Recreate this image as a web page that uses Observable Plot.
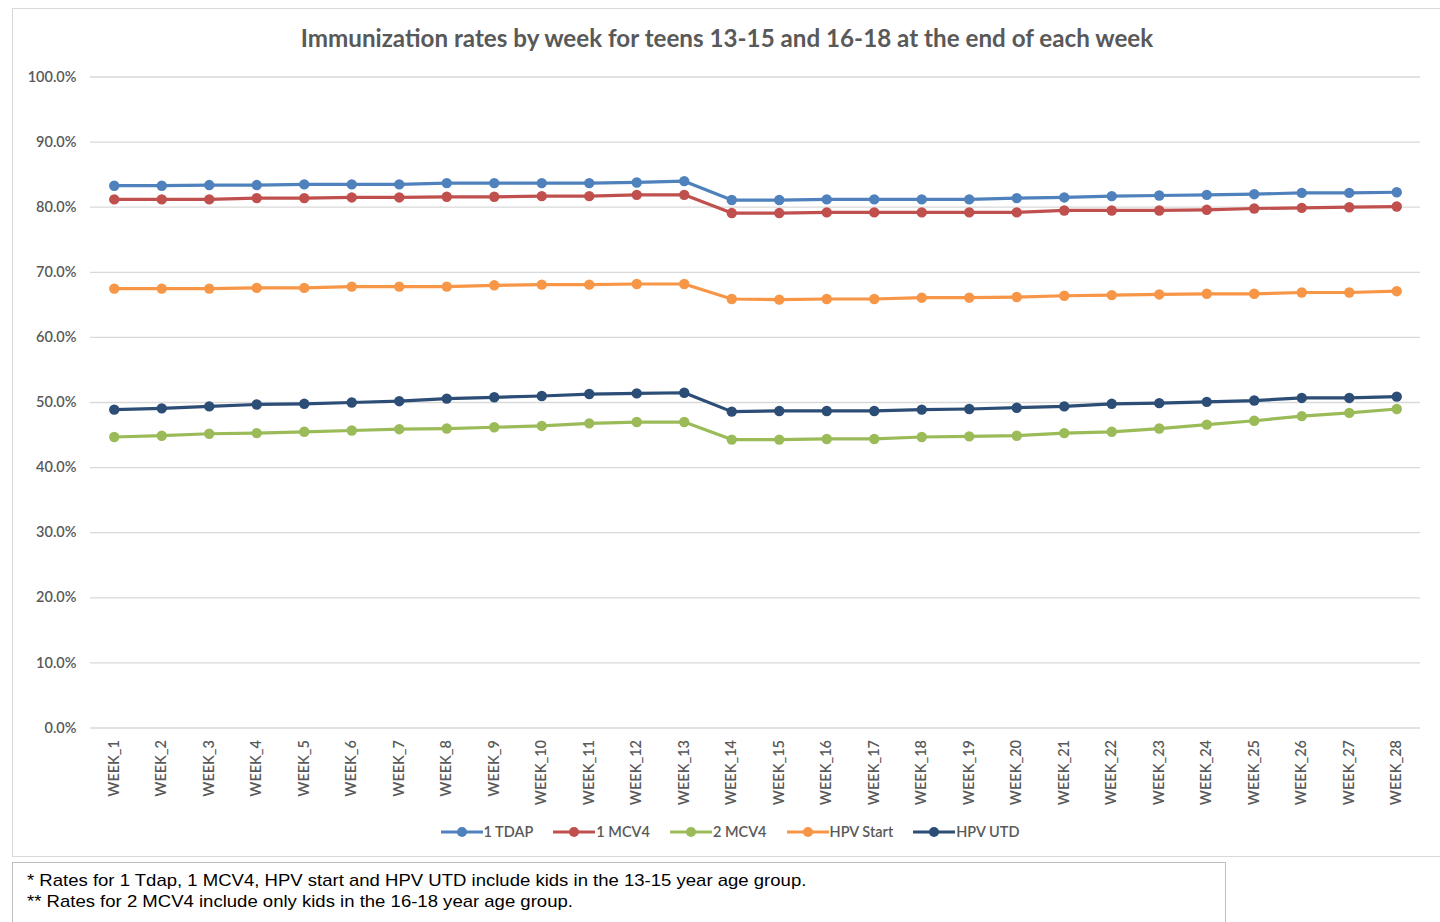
<!DOCTYPE html>
<html>
<head>
<meta charset="utf-8">
<script src="https://cdn.jsdelivr.net/npm/d3@7"></script>
<script src="https://cdn.jsdelivr.net/npm/@observablehq/plot@0.6"></script>
<style>
  html, body { margin: 0; padding: 0; background: #fff; width: 1440px; height: 922px; overflow: hidden; }
  #page { position: relative; width: 1440px; height: 922px; }
  #box { position: absolute; left: 12px; top: 8px; width: 1440px; height: 849px; border: 1px solid #d9d9d9; box-sizing: border-box; }
  #title { position: absolute; left: 0; width: 1454px; top: 23px; text-align: center; font-family: Lato, "Open Sans", sans-serif; font-weight: 700; font-size: 24.2px; color: #595959; }
  #chart { position: absolute; left: 0; top: 0; }
  #legend { position: absolute; top: 823px; left: 0; width: 1460px; display: flex; justify-content: center; gap: 20px; font-family: Lato, sans-serif; font-size: 14.5px; color: #595959; font-weight: 600; }
  .item { display: flex; align-items: center; }
  .item svg { margin-right: 1px; }
  #note { position: absolute; left: 12px; top: 862px; width: 1214px; height: 80px; border: 1px solid #bfbfbf; box-sizing: border-box; font-family: "Liberation Sans", Arial, sans-serif; font-size: 17px; color: #000; }
  #note div { position: absolute; left: 14px; white-space: nowrap; transform: scaleX(1.09); transform-origin: left center; }
</style>
</head>
<body>
<div id="page">
  <div id="box"></div>
  <div id="title">Immunization rates by week for teens 13-15 and 16-18 at the end of each week</div>
  <div id="chart"></div>
  <div id="legend"></div>
  <div id="note">
    <div style="top:8px">* Rates for 1 Tdap, 1 MCV4, HPV start and HPV UTD include kids in the 13-15 year age group.</div>
    <div style="top:29px">** Rates for 2 MCV4 include only kids in the 16-18 year age group.</div>
  </div>
</div>
<script>
const weeks = Array.from({length: 28}, (_, i) => "WEEK_" + (i + 1));

const seriesNames = ["1 TDAP", "1 MCV4", "2 MCV4", "HPV Start", "HPV UTD"];
const seriesColors = ["#4f81bd", "#c0504d", "#9bbb59", "#f79646", "#2c4d75"];

const tdap1 = [83.3, 83.3, 83.4, 83.4, 83.5, 83.5, 83.5, 83.7, 83.7, 83.7, 83.7, 83.8, 84.0,
               81.1, 81.1, 81.2, 81.2, 81.2, 81.2, 81.4, 81.5, 81.7, 81.8, 81.9, 82.0, 82.2, 82.2, 82.3];
const mcv4_1 = [81.2, 81.2, 81.2, 81.4, 81.4, 81.5, 81.5, 81.6, 81.6, 81.7, 81.7, 81.9, 81.9,
                79.1, 79.1, 79.2, 79.2, 79.2, 79.2, 79.2, 79.5, 79.5, 79.5, 79.6, 79.8, 79.9, 80.0, 80.1];
const mcv4_2 = [44.7, 44.9, 45.2, 45.3, 45.5, 45.7, 45.9, 46.0, 46.2, 46.4, 46.8, 47.0, 47.0,
                44.3, 44.3, 44.4, 44.4, 44.7, 44.8, 44.9, 45.3, 45.5, 46.0, 46.6, 47.2, 47.9, 48.4, 49.0];
const hpvStart = [67.5, 67.5, 67.5, 67.6, 67.6, 67.8, 67.8, 67.8, 68.0, 68.1, 68.1, 68.2, 68.2,
                  65.9, 65.8, 65.9, 65.9, 66.1, 66.1, 66.2, 66.4, 66.5, 66.6, 66.7, 66.7, 66.9, 66.9, 67.1];
const hpvUtd = [48.9, 49.1, 49.4, 49.7, 49.8, 50.0, 50.2, 50.6, 50.8, 51.0, 51.3, 51.4, 51.5,
                48.6, 48.7, 48.7, 48.7, 48.9, 49.0, 49.2, 49.4, 49.8, 49.9, 50.1, 50.3, 50.7, 50.7, 50.9];

const yTicks = [0, 0.1, 0.2, 0.3, 0.4, 0.5, 0.6, 0.7, 0.8, 0.9, 1.0];

const seriesValues = [tdap1, mcv4_1, mcv4_2, hpvStart, hpvUtd];
const data = [];
seriesNames.forEach((name, si) => {
  seriesValues[si].forEach((v, i) => data.push({series: name, week: weeks[i], value: v / 100}));
});

const chart = Plot.plot({
  width: 1440,
  height: 810,
  marginLeft: 90,
  marginRight: 20,
  marginTop: 76.5,
  marginBottom: 82.5,
  style: {fontFamily: "Lato, sans-serif", fontSize: "13px", color: "#595959", background: "transparent", overflow: "visible"},
  x: {type: "point", domain: weeks, padding: 0.5, round: false, label: null},
  y: {domain: [0, 1], label: null},
  color: {domain: seriesNames, range: seriesColors},
  marks: [
    Plot.ruleY(yTicks, {stroke: "#d9d9d9", strokeWidth: 1.3}),
    Plot.axisY({ticks: yTicks, tickFormat: d3.format(".1%"), tickSize: 0, tickPadding: 14, fill: "#595959", fontWeight: 600, fontSize: 14.5}),
    Plot.axisX({tickRotate: -90, tickSize: 0, tickPadding: 12, fill: "#595959", fontWeight: 600, fontSize: 14.5}),
    Plot.line(data, {x: "week", y: "value", z: "series", stroke: "series", strokeWidth: 3.2}),
    Plot.dot(data, {x: "week", y: "value", fill: "series", r: 5.2})
  ]
});
document.getElementById("chart").appendChild(chart);

const legend = document.getElementById("legend");
seriesNames.forEach((name, i) => {
  const item = document.createElement("div");
  item.className = "item";
  item.innerHTML = `<svg width="42" height="14"><line x1="0" y1="7" x2="42" y2="7" stroke="${seriesColors[i]}" stroke-width="3.2"/><circle cx="21" cy="7" r="5" fill="${seriesColors[i]}"/></svg><span>${name}</span>`;
  legend.appendChild(item);
});
</script>
</body>
</html>
